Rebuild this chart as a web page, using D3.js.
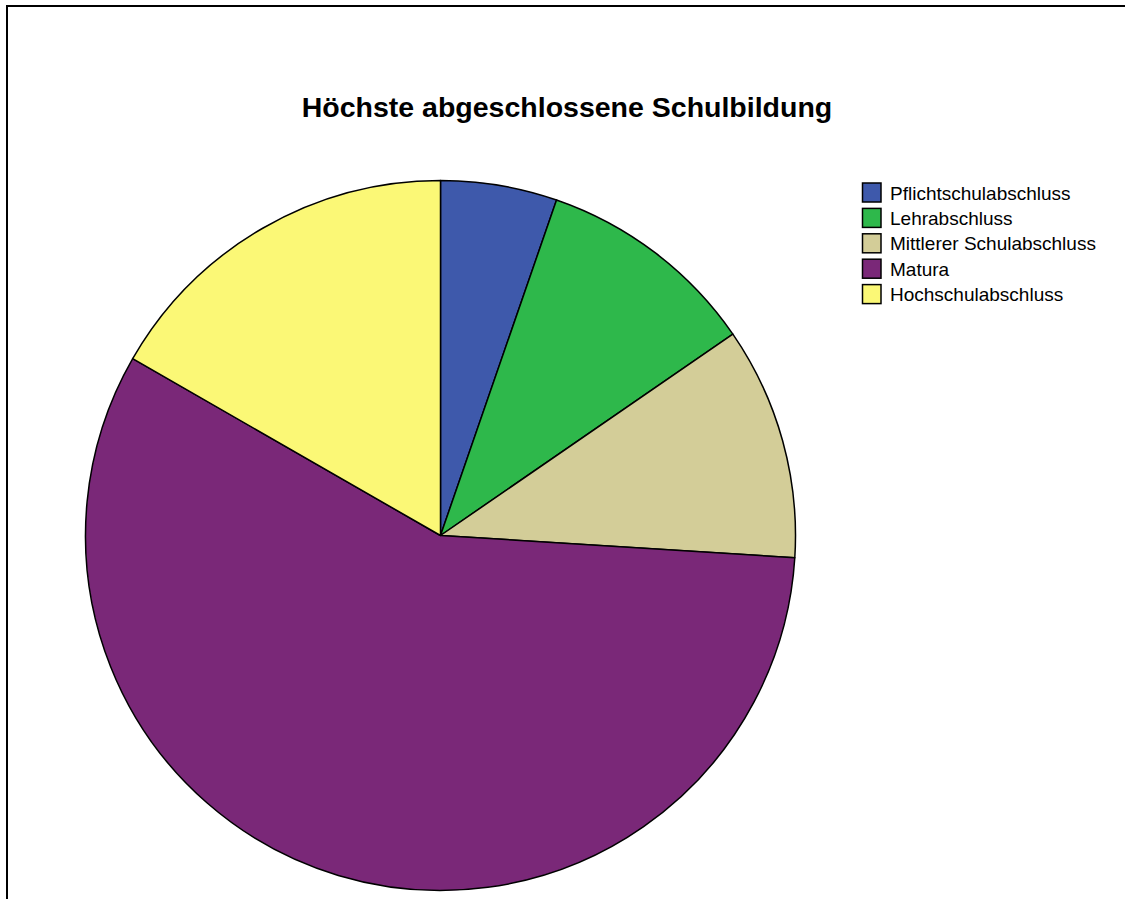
<!DOCTYPE html>
<html>
  <head>
    <meta charset="utf-8" />
    <script src="https://cdnjs.cloudflare.com/ajax/libs/d3/7.8.5/d3.min.js"></script>
    <style>
      body { margin: 0; background: #fff; }
      svg { display: block; font-family: "Liberation Sans", Arial, sans-serif; }
    </style>
  </head>
  <body>
    <div id="container"></div>
    <script>
      // data (percent)
      const categories = [
        "Pflichtschulabschluss",
        "Lehrabschluss",
        "Mittlerer Schulabschluss",
        "Matura",
        "Hochschulabschluss",
      ];
      const shares = [5.3, 10.1, 10.6, 57.3, 16.7];
      const colors = ["#3e59ab", "#2eb84b", "#d3cd98", "#7a2878", "#fbf876"];

      const w = 1125;
      const h = 899;

      const svg = d3
        .select("#container")
        .append("svg")
        .attr("width", w)
        .attr("height", h);

      // outer frame (runs off the right and bottom edge)
      svg
        .append("rect")
        .attr("x", 7)
        .attr("y", 6)
        .attr("width", w + 20)
        .attr("height", h + 20)
        .attr("fill", "none")
        .attr("stroke", "#000")
        .attr("stroke-width", 2);

      svg
        .append("text")
        .attr("x", 567)
        .attr("y", 117)
        .attr("text-anchor", "middle")
        .attr("font-size", "28.5px")
        .attr("font-weight", "bold")
        .text("Höchste abgeschlossene Schulbildung");

      const cx = 440.5;
      const cy = 535.5;
      const radius = 355;

      const pie = d3.pie().sort(null).value((d) => d);
      const arc = d3.arc().innerRadius(0).outerRadius(radius);

      const color = d3.scaleOrdinal().domain(categories).range(colors);

      svg
        .append("g")
        .attr("transform", "translate(" + cx + "," + cy + ")")
        .selectAll("path")
        .data(pie(shares))
        .enter()
        .append("path")
        .attr("d", arc)
        .attr("fill", (d, i) => color(categories[i]))
        .attr("stroke", "#000")
        .attr("stroke-width", 1.5)
        .attr("stroke-linejoin", "round");

      // legend
      const legendY = d3
        .scaleBand()
        .domain(categories)
        .range([182, 182 + 25.4 * categories.length]);

      const legend = svg
        .append("g")
        .selectAll("g")
        .data(categories)
        .enter()
        .append("g")
        .attr("transform", (d) => "translate(862," + legendY(d) + ")");

      legend
        .append("rect")
        .attr("x", 0.5)
        .attr("y", 1)
        .attr("width", 18.5)
        .attr("height", 19)
        .attr("fill", (d) => color(d))
        .attr("stroke", "#000")
        .attr("stroke-width", 1.5);

      legend
        .append("text")
        .attr("x", 28)
        .attr("y", 17.5)
        .attr("font-size", "19px")
        .attr("fill", "#000")
        .text((d) => d);
    </script>
  </body>
</html>
